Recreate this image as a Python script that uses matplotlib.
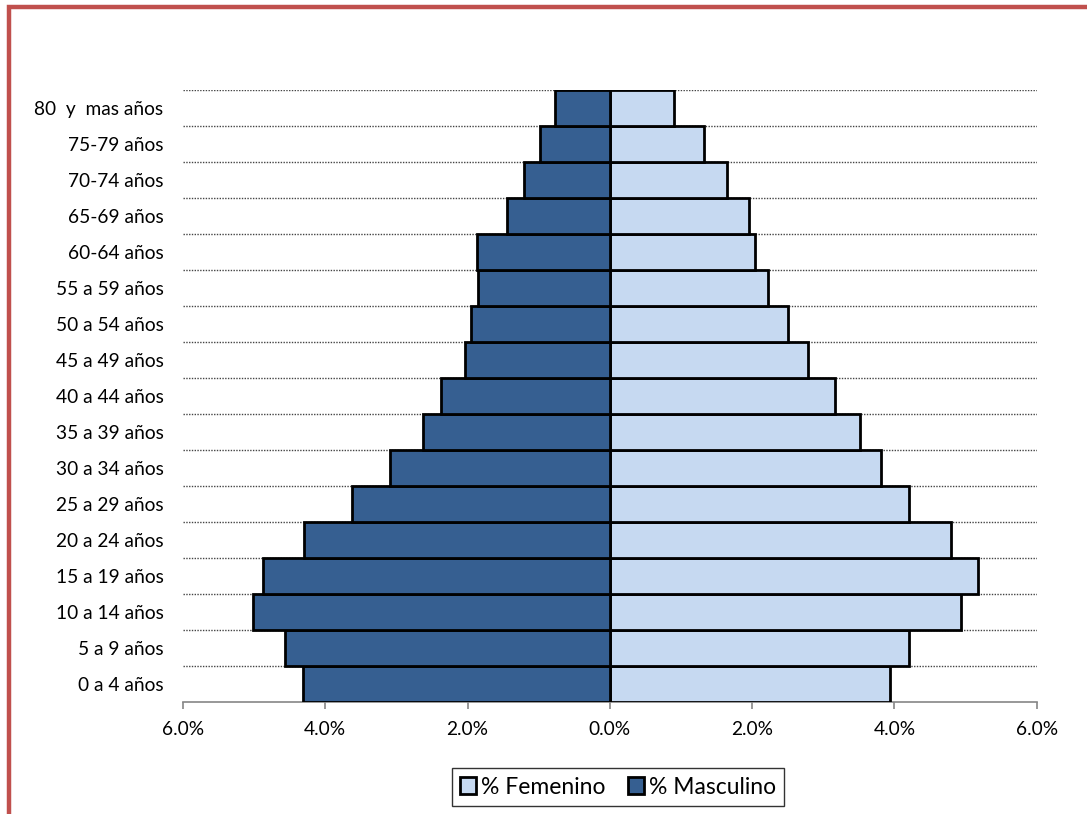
import matplotlib.pyplot as plt
import matplotlib as mpl
import numpy as np
from matplotlib.patches import Rectangle
from matplotlib.ticker import FuncFormatter

# style stuff
mpl.rcParams['font.family'] = ['Lato', 'DejaVu Sans']
plt.rcParams['font.size'] = 13.8

# age groups, bottom to top
grupos = ['0 a 4 años', '5 a 9 años', '10 a 14 años', '15 a 19 años',
          '20 a 24 años', '25 a 29 años', '30 a 34 años', '35 a 39 años',
          '40 a 44 años', '45 a 49 años', '50 a 54 años', '55 a 59 años',
          '60-64 años', '65-69 años', '70-74 años', '75-79 años',
          '80  y  mas años']

# percentages
masculino = [4.32, 4.56, 5.01, 4.87, 4.30, 3.63, 3.09, 2.62,
             2.37, 2.04, 1.95, 1.85, 1.87, 1.45, 1.21, 0.98, 0.77]
femenino = [3.94, 4.20, 4.93, 5.17, 4.79, 4.21, 3.81, 3.51,
            3.16, 2.79, 2.51, 2.23, 2.04, 1.95, 1.64, 1.32, 0.90]

xticks = [-6, -4, -2, 0, 2, 4, 6]

W, H = 1087, 814
fig = plt.figure(figsize=(W / 100, H / 100), dpi=100)
ax = fig.add_axes([183 / W, 1 - 702 / H, (1036.7 - 183) / W, (702 - 90) / H])

y = np.arange(len(grupos))
ax.barh(y, femenino, height=1.0, color='#C6D9F1', edgecolor='black',
        linewidth=2.0, label='% Femenino', zorder=3)
ax.barh(y, -np.array(masculino), height=1.0, color='#365F91',
        edgecolor='black', linewidth=2.0, label='% Masculino', zorder=3)

ax.set_xlim(-6, 6)
ax.set_ylim(-0.5, len(grupos) - 0.5)
ax.set_xticks(xticks)
ax.xaxis.set_major_formatter(FuncFormatter(lambda v, p: f'{abs(v):.1f}%'))
ax.set_yticks(y)
ax.set_yticklabels(grupos)
ax.set_yticks(np.arange(0.5, len(grupos), 1), minor=True)
ax.grid(which='minor', axis='y', color='#444444', linestyle=(0, (1, 1)),
        linewidth=1.0, zorder=0)

for s in ['left', 'right', 'top']:
    ax.spines[s].set_visible(False)
ax.spines['bottom'].set_color('#868686')
ax.spines['bottom'].set_linewidth(1.2)
ax.tick_params(axis='x', direction='out', length=5, width=1.2,
               color='#868686', pad=9, labelsize=13.8)
ax.tick_params(axis='y', which='both', length=0, pad=14, labelsize=13.8)

leg = fig.legend(loc='center', bbox_to_anchor=(618 / W, 1 - 787 / H),
                 ncol=2, frameon=True, fancybox=False, fontsize=16.5,
                 handlelength=0.7, handleheight=0.7, handletextpad=0.2,
                 columnspacing=1.0, borderpad=0.35)
leg.get_frame().set_edgecolor('black')
leg.get_frame().set_linewidth(1.0)
for h in leg.legend_handles:
    h.set_linewidth(2.0)

# red frame of the chart area
fig.patches.append(Rectangle((8.5 / W, -0.01), 1.1, 1 - 6.5 / H + 0.01,
                             transform=fig.transFigure, fill=False,
                             edgecolor='#C0504D', linewidth=3.2))

fig.savefig('out.png', dpi=100)
